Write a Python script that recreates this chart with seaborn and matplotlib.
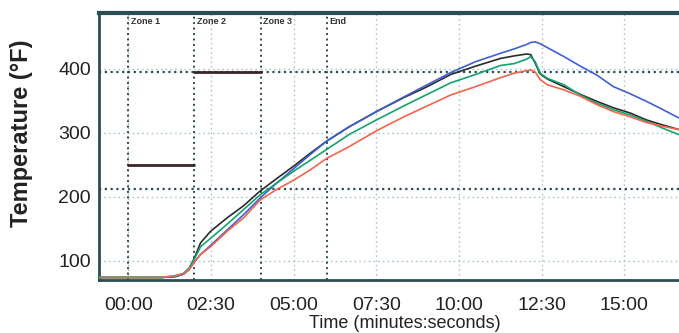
import numpy as np
import pandas as pd
import matplotlib
matplotlib.use("Agg")
import matplotlib.pyplot as plt
from matplotlib.ticker import FuncFormatter, MultipleLocator
import seaborn as sns

# time in seconds, temperatures in deg F
times = [-53, 0, 60, 85, 100, 110, 118, 131, 149, 179, 209, 239, 270, 300, 330, 360,
         400, 450, 500, 540, 585, 630, 675, 700, 723, 730, 738, 747, 760, 790, 820,
         850, 880, 910, 940, 970, 999]

probe_black = [74, 74, 74, 76, 80, 88, 101, 128, 146, 167, 186, 209, 229, 248, 268, 287,
               309, 333, 355, 371, 391, 404, 416, 420, 423, 422, 409, 392, 384, 372, 360,
               349, 339, 331, 320, 312, 305]
probe_blue = [74, 74, 74, 75, 79, 86, 96, 110, 124, 148, 172, 198, 222, 244, 266, 287,
              309, 333, 356, 374, 394, 411, 424, 431, 438, 441, 442, 439, 433, 419, 404,
              390, 372, 361, 349, 336, 323]
probe_green = [74, 74, 74, 76, 80, 88, 100, 122, 135, 157, 180, 203, 222, 240, 257, 274,
               297, 320, 342, 359, 378, 391, 405, 408, 415, 419, 411, 393, 385, 375, 359,
               346, 336, 328, 318, 307, 297]
probe_red = [74, 74, 74, 77, 80, 86, 96, 110, 122, 146, 167, 195, 212, 226, 242, 260,
             278, 303, 325, 341, 359, 372, 386, 393, 397, 398, 395, 383, 375, 367, 357,
             344, 333, 325, 316, 310, 305]

probes = ["black", "blue", "green", "red"]
probe_colors = ["#2b2b2b", "#3f5fd2", "#14a36a", "#f2644c"]

zone_names = ["Zone 1", "Zone 2", "Zone 3", "End"]
zone_starts = [0, 120, 240, 360]
setpoint_t = [(0, 120), (120, 240)]
setpoint_temp = [250, 395]
ref_lines = [212, 395]

df = pd.DataFrame({
    "time": times * 4,
    "temp": probe_black + probe_blue + probe_green + probe_red,
    "probe": np.repeat(probes, len(times)),
})

sns.set_style("white")
plt.rcParams["font.family"] = ["Liberation Sans", "DejaVu Sans"]

fig = plt.figure(figsize=(6.79, 3.33), dpi=100)
ax = fig.add_axes([0.146, 0.159, 0.854, 0.802])

grid_c = "#a9c6ca"
dark_c = "#2c4d53"

for xv in range(0, 1000, 150):
    ax.axvline(xv, color=grid_c, ls=(0, (1.2, 2.2)), lw=1.0, zorder=1)
for yv in [100, 200, 300, 400]:
    ax.axhline(yv, color=grid_c, ls=(0, (1.2, 2.2)), lw=1.0, zorder=1)

for yv in ref_lines:
    ax.axhline(yv, color=dark_c, ls=(0, (1.0, 1.6)), lw=1.6, zorder=2)

for name, xs in zip(zone_names, zone_starts):
    ax.axvline(xs, color=dark_c, ls=(0, (1.0, 1.8)), lw=1.4, zorder=2)
    ax.text(xs + 5, 473, name, fontsize=6.5, fontweight="bold", color="#333333",
            ha="left", va="center")

for (t0, t1), sp in zip(setpoint_t, setpoint_temp):
    ax.plot([t0, t1], [sp, sp], color="#3a2626", lw=2.0, zorder=3)

sns.lineplot(data=df, x="time", y="temp", hue="probe", palette=probe_colors,
             estimator=None, sort=False, lw=1.2, legend=False, ax=ax, zorder=4)

ax.set_xlim(-53, 999)
ax.set_ylim(70, 487)
ax.xaxis.set_major_locator(MultipleLocator(150))
ax.xaxis.set_minor_locator(MultipleLocator(30))
ax.yaxis.set_major_locator(MultipleLocator(100))
ax.yaxis.set_minor_locator(MultipleLocator(20))
ax.xaxis.set_major_formatter(FuncFormatter(
    lambda v, p: f"{int(v) // 60:02d}:{int(v) % 60:02d}" if v >= 0 else ""))

ax.tick_params(axis="both", which="major", direction="out", length=5, width=1.2,
               colors=dark_c, labelcolor="#222222", labelsize=14)
ax.tick_params(axis="x", which="major", pad=7)
ax.tick_params(axis="y", which="major", pad=1)
ax.tick_params(axis="both", which="minor", direction="out", length=3, width=1.0,
               colors=dark_c)

ax.set_xlabel("Time (minutes:seconds)", fontsize=13, color="#222222")
ax.xaxis.set_label_coords(0.528, -0.13)
ax.set_ylabel("Temperature (°F)", fontsize=17, fontweight="bold", color="#222222")
ax.yaxis.set_label_coords(-0.114, 0.55)

for side in ["left", "bottom"]:
    ax.spines[side].set_color(dark_c)
    ax.spines[side].set_linewidth(2.0)
ax.spines["top"].set_color(dark_c)
ax.spines["top"].set_linewidth(3.0)
ax.spines["right"].set_visible(False)

fig.savefig("out.png", dpi=100)
